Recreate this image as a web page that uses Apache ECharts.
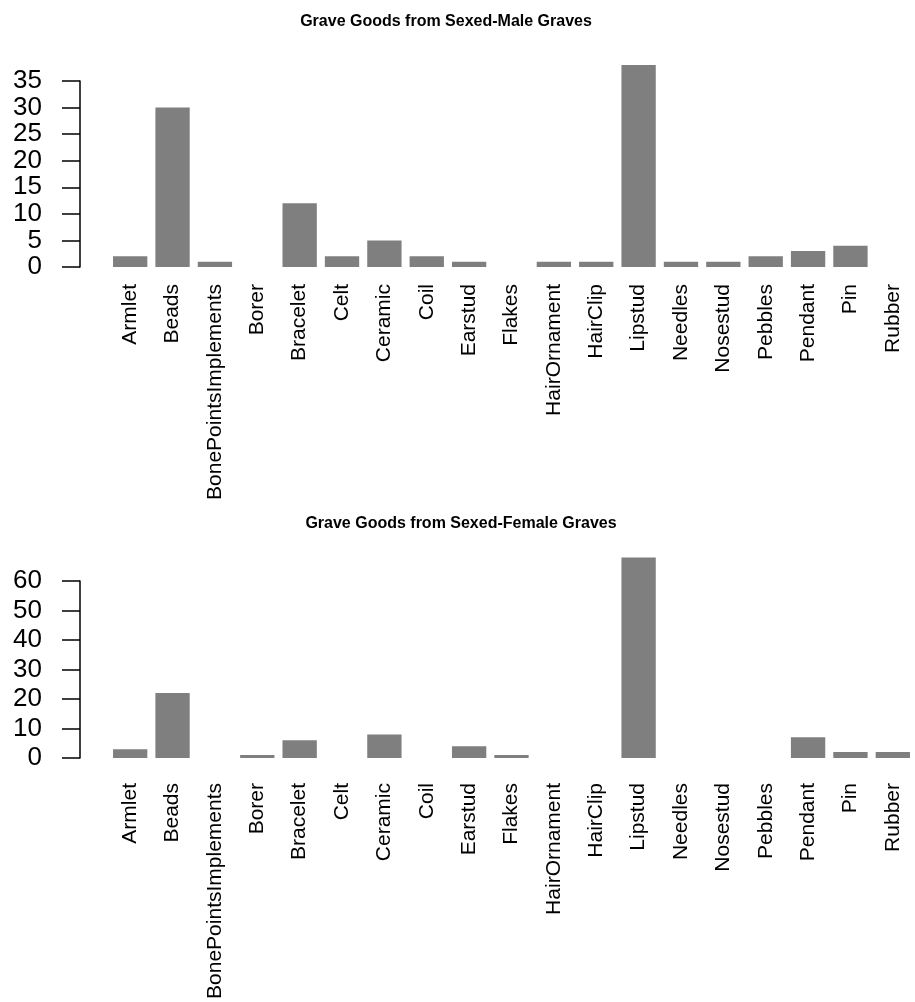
<!DOCTYPE html>
<html>
<head>
<meta charset="utf-8">
<script src="https://cdn.jsdelivr.net/npm/echarts@6/dist/echarts.min.js"></script>
<style>
html,body{margin:0;padding:0;background:#fff;}
#chart{width:915px;height:1002px;}
</style>
</head>
<body>
<div id="chart"></div>
<script>
var categories = ['Armlet','Beads','BonePointsImplements','Borer','Bracelet','Celt','Ceramic','Coil','Earstud','Flakes','HairOrnament','HairClip','Lipstud','Needles','Nosestud','Pebbles','Pendant','Pin','Rubber'];
var maleCounts   = [2,30,1,0,12,2,5,2,1,0,1,1,38,1,1,2,3,4,0];
var femaleCounts = [3,22,0,1,6,0,8,0,4,1,0,0,68,0,0,0,7,2,2];
var maleTitle = 'Grave Goods from Sexed-Male Graves';
var femaleTitle = 'Grave Goods from Sexed-Female Graves';
var maleTicks = {min:0, max:35, interval:5};
var femaleTicks = {min:0, max:60, interval:10};

var chart = echarts.init(document.getElementById('chart'), null, {renderer:'canvas'});

function yAxisFor(t, gi){
  return {
    type:'value', gridIndex:gi, min:t.min, max:t.max, interval:t.interval,
    offset:29,
    axisLine:{show:true, lineStyle:{color:'#000', width:1.5}},
    axisTick:{show:true, length:18, lineStyle:{color:'#000', width:1.5}},
    splitLine:{show:false},
    axisLabel:{color:'#000', fontSize:26, fontFamily:'Liberation Sans', margin:38}
  };
}
function xAxisFor(gi, margin){
  return {
    type:'category', gridIndex:gi, data:categories,
    axisLine:{show:false}, axisTick:{show:false},
    axisLabel:{interval:0, rotate:90, color:'#000', fontSize:21, fontFamily:'Liberation Sans', margin:margin}
  };
}
function barSeries(data, gi){
  return {
    type:'bar', xAxisIndex:gi, yAxisIndex:gi, data:data, barWidth:'81%', clip:false,
    itemStyle:{color:'#7f7f7f', borderWidth:0},
    silent:true
  };
}

chart.setOption({
  animation:false,
  backgroundColor:'#fff',
  title:[
    {text:maleTitle, left:441, top:9, textAlign:'center',
     textStyle:{fontSize:16, fontWeight:'bold', color:'#000', fontFamily:'Liberation Sans'}},
    {text:femaleTitle, left:456, top:511, textAlign:'center',
     textStyle:{fontSize:16, fontWeight:'bold', color:'#000', fontFamily:'Liberation Sans'}}
  ],
  grid:[
    {left:109, right:1, top:81, height:186},
    {left:109, right:1, top:581, height:177}
  ],
  xAxis:[xAxisFor(0,17), xAxisFor(1,25)],
  yAxis:[yAxisFor(maleTicks,0), yAxisFor(femaleTicks,1)],
  series:[barSeries(maleCounts,0), barSeries(femaleCounts,1)]
});
</script>
</body>
</html>
